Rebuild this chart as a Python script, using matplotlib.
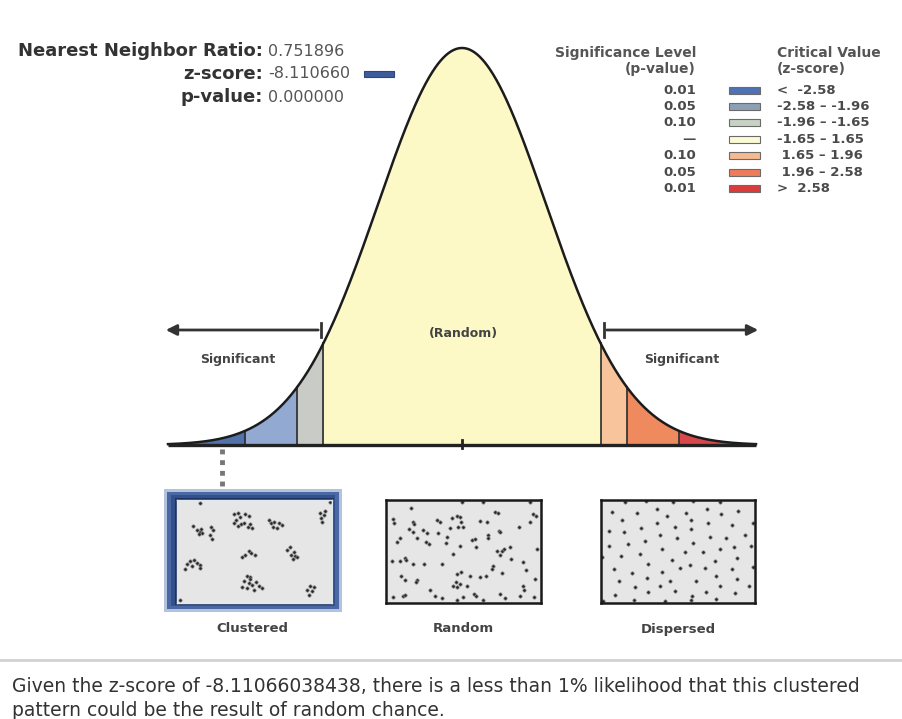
import numpy as np
import matplotlib
matplotlib.use('Agg')
import matplotlib.pyplot as plt
from matplotlib.patches import Rectangle

# ---- data ----
nn_ratio = 0.751896
z_score = -8.110660
p_value = 0.000000
z_full = "-8.11066038438"

crit_bounds = [-3.5, -2.58, -1.96, -1.65, 1.65, 1.96, 2.58, 3.5]
region_colors = ['#5272ab', '#92a9d2', '#c9cbc7', '#fcf9c6', '#f8c49c', '#ef8a5f', '#d8474a']

sig_levels = ['0.01', '0.05', '0.10', '—', '0.10', '0.05', '0.01']
crit_labels = ['<  -2.58', '-2.58 – -1.96', '-1.96 – -1.65', '-1.65 – 1.65',
               ' 1.65 – 1.96', ' 1.96 – 2.58', '>  2.58']
legend_colors = ['#4d72b6', '#8c9fb3', '#c8d2c4', '#fafad4', '#f6ba90', '#ee7c5b', '#dc3b3c']

pattern_names = ['Clustered', 'Random', 'Dispersed']

# point maps, panel units (465 x 310, y down)
clustered_x = [48, 60, 68, 75, 72, 65, 102, 108, 100, 105,
               172, 182, 190, 205, 215, 170, 182, 192, 202, 212, 220, 178, 225,
               275, 282, 292, 288, 305, 315, 300,
               430, 440, 432, 445, 435,
               195, 205, 215, 222, 235,
               330, 340, 350, 342, 355, 360, 348,
               30, 38, 45, 25, 50, 60, 70, 68,
               210, 220, 200, 215, 225, 238, 195, 210, 230, 245, 255, 220,
               398, 410, 390, 405, 395,
               70, 10, 460]
clustered_y = [78, 90, 95, 98, 88, 102, 80, 90, 105, 118,
               42, 40, 50, 43, 48, 70, 78, 72, 70, 80, 72, 60, 85,
               60, 70, 67, 82, 68, 75, 85,
               38, 45, 55, 32, 65,
               172, 165, 152, 160, 165,
               150, 142, 155, 165, 168, 172, 178,
               192, 185, 200, 208, 180, 190, 195, 205,
               228, 232, 245, 250, 255, 248, 262, 265, 270, 260, 265, 238,
               260, 262, 272, 275, 285,
               10, 300, 5]

random_x = [75, 292, 227, 432, 327, 337, 440, 449,
            22, 24, 82, 85, 152, 162, 197, 212, 222, 225, 282, 302, 432, 400,
            68, 82, 110, 124, 157, 192, 217, 232, 182, 307, 338, 342, 307,
            42, 32, 92, 120, 128, 180, 222, 257, 267, 269, 332, 347, 355, 372, 452,
            57, 60, 17, 42, 80, 114, 167, 200, 342, 375, 410, 322, 317,
            44, 57, 92, 90, 212, 224, 252, 282, 300, 347, 419, 447, 210, 222,
            132, 202, 212, 242, 412, 414, 20, 52, 57, 147, 167, 212, 232, 264, 269,
            342, 357, 402, 444, 292]
random_y = [23, 7, 7, 7, 37, 40, 42, 47,
            58, 70, 65, 73, 60, 65, 55, 47, 50, 65, 62, 67, 65, 80,
            88, 95, 90, 98, 100, 85, 80, 80, 110, 105, 92, 95, 115,
            113, 125, 115, 125, 132, 128, 138, 120, 118, 142, 152, 153, 148, 140, 148,
            175, 182, 185, 185, 193, 193, 193, 162, 165, 178, 187, 200, 207,
            230, 240, 240, 248, 222, 218, 230, 233, 230, 220, 210, 237, 248, 252,
            270, 260, 262, 258, 260, 270, 293, 290, 285, 290, 295, 302, 292, 282, 290,
            283, 295, 288, 292, 302]

dispersed_x = [73, 136, 218, 278, 358,
               33, 110, 168, 198, 256, 320, 363, 413,
               63, 168, 273, 323, 395, 458,
               23, 68, 121, 178, 223, 228, 273, 328, 378, 436,
               23, 83, 133, 185, 278, 308, 358, 403, 453,
               3, 61, 118, 143, 213, 253, 343, 410,
               38, 93, 183, 238, 268, 313, 396, 458,
               53, 138, 208, 288, 348, 411,
               103, 178, 223, 318, 358, 448, 43, 143, 276, 405,
               100, 193, 273, 348, 6]
dispersed_y = [5, 2, 7, 2, 5,
               37, 40, 27, 47, 38, 27, 43, 33,
               60, 70, 60, 70, 75, 70,
               93, 95, 85, 105, 82, 115, 88, 110, 113, 105,
               138, 132, 122, 147, 128, 158, 148, 142, 138,
               172, 170, 163, 193, 180, 158, 183, 175,
               208, 220, 217, 205, 195, 205, 208, 202,
               245, 235, 245, 245, 228, 238,
               262, 258, 273, 277, 260, 258, 285, 278, 288, 280,
               300, 305, 300, 298, 305]

# ---- figure in pixel space ----
W, H = 902, 719
fig = plt.figure(figsize=(W / 100, H / 100), dpi=100)
fig.patch.set_facecolor('white')


def px_axes(x0, y0, x1, y1, z=1):
    a = fig.add_axes([x0 / W, 1 - y1 / H, (x1 - x0) / W, (y1 - y0) / H])
    a.set_zorder(z)
    return a


# normal curve
cx = px_axes(168, 48, 756, 445, z=1)
zs = np.linspace(-3.5, 3.5, 701)
pdf = np.exp(-zs ** 2 / 2)
for i, col in enumerate(region_colors):
    m = (zs >= crit_bounds[i]) & (zs <= crit_bounds[i + 1])
    cx.fill_between(zs[m], 0, pdf[m], color=col, lw=0)
for b in crit_bounds[1:-1]:
    cx.plot([b, b], [0, np.exp(-b ** 2 / 2)], color='#2b2b2b', lw=1.2)
cx.plot(zs, pdf, color='#1c1c1c', lw=1.8, clip_on=False)
cx.plot([-3.5, 3.5], [0, 0], color='#222222', lw=2.4, clip_on=False, solid_capstyle='butt')
cx.plot([0, 0], [-0.008, 0.012], color='#222222', lw=2, clip_on=False)
cx.set_xlim(-3.5, 3.5)
cx.set_ylim(0, 1)
cx.axis('off')

# overlay for text / arrows
ax = fig.add_axes([0, 0, 1, 1])
ax.set_zorder(2)
ax.set_xlim(0, W)
ax.set_ylim(H, 0)
ax.axis('off')

# top-left summary
lab_kw = dict(fontsize=13, fontweight='bold', color='#333333', ha='right', va='center')
val_kw = dict(fontsize=11.5, color='#555555', ha='left', va='center')
ax.text(263, 51, 'Nearest Neighbor Ratio:', **lab_kw)
ax.text(268, 51, f'{nn_ratio:.6f}', **val_kw)
ax.text(263, 74, 'z-score:', **lab_kw)
ax.text(268, 74, f'{z_score:.6f}', **val_kw)
ax.text(263, 97, 'p-value:', **lab_kw)
ax.text(268, 97, f'{p_value:.6f}', **val_kw)
ax.add_patch(Rectangle((364, 71), 30, 6, facecolor='#3d5c9c', edgecolor='#2b4680', lw=0.8))

# legend
hdr = dict(fontsize=10, fontweight='bold', color='#555555', va='center')
ax.text(696, 53, 'Significance Level', ha='right', **hdr)
ax.text(696, 69, '(p-value)', ha='right', **hdr)
ax.text(777, 53, 'Critical Value', ha='left', **hdr)
ax.text(777, 69, '(z-score)', ha='left', **hdr)
for i in range(7):
    y = 90 + i * 16.4
    ax.text(696, y, sig_levels[i], ha='right', va='center', fontsize=9.5,
            fontweight='bold', color='#4a4a4a')
    ax.add_patch(Rectangle((729, y - 3.5), 31, 7, facecolor=legend_colors[i],
                           edgecolor='#6a6a6a', lw=0.8))
    ax.text(777, y, crit_labels[i], ha='left', va='center', fontsize=9.5,
            fontweight='bold', color='#4a4a4a')

# arrows and region labels
arr = dict(arrowstyle='-|>', lw=2, color='#333333', mutation_scale=16)
ax.annotate('', xy=(163, 330), xytext=(321, 330), arrowprops=arr)
ax.plot([321, 321], [323, 337], color='#333333', lw=2)
ax.annotate('', xy=(761, 330), xytext=(604, 330), arrowprops=arr)
ax.plot([604, 604], [323, 337], color='#333333', lw=2)
ax.text(238, 360, 'Significant', ha='center', va='center', fontsize=9,
        fontweight='bold', color='#444444')
ax.text(682, 360, 'Significant', ha='center', va='center', fontsize=9,
        fontweight='bold', color='#444444')
ax.text(463, 334, '(Random)', ha='center', va='center', fontsize=9,
        fontweight='bold', color='#444444')

# dotted connector to clustered panel
ax.plot([222, 222], [449, 490], color='#777777', lw=3.5, ls=(0, (1, 1.2)))

# clustered highlight frame
ax.add_patch(Rectangle((164, 489), 178, 123, facecolor='#b3c3de', edgecolor='none'))
ax.add_patch(Rectangle((167, 492), 172, 117, facecolor='#4a68a4', edgecolor='none'))
ax.add_patch(Rectangle((171, 495), 164, 111, facecolor='#34508c', edgecolor='none'))
ax.add_patch(Rectangle((175, 498), 159, 107, facecolor='#1d3366', edgecolor='none'))

# pattern panels
panel_boxes = [(177, 500, 332, 603), (386, 500, 541, 603), (601, 500, 755, 603)]
panel_pts = [(clustered_x, clustered_y), (random_x, random_y), (dispersed_x, dispersed_y)]
for k, (x0, y0, x1, y1) in enumerate(panel_boxes):
    p = px_axes(x0, y0, x1, y1, z=3)
    p.set_facecolor('#e6e6e6')
    px, py = panel_pts[k]
    p.plot(px, py, 'o', ms=2.4, color='#262626', mec='#8a8a8a', mew=0.5)
    p.set_xlim(0, 465)
    p.set_ylim(310, 0)
    p.set_xticks([])
    p.set_yticks([])
    for s in p.spines.values():
        s.set_linewidth(1.8 if k else 1.0)
        s.set_color('#1a1a1a' if k else '#e0e8f0')
    ax.text((x0 + x1) / 2 + (-2 if k == 0 else 0), 629, pattern_names[k], ha='center',
            va='center', fontsize=9.5, fontweight='bold', color='#444444')

# separator and conclusion
ax.plot([0, W], [660, 660], color='#d2d2d2', lw=2)
ax.text(12, 687, f'Given the z-score of {z_full}, there is a less than 1% likelihood that this clustered',
        ha='left', va='center', fontsize=13.5, color='#333333')
ax.text(12, 711, 'pattern could be the result of random chance.',
        ha='left', va='center', fontsize=13.5, color='#333333')

fig.savefig('out.png', dpi=100, facecolor='white')
